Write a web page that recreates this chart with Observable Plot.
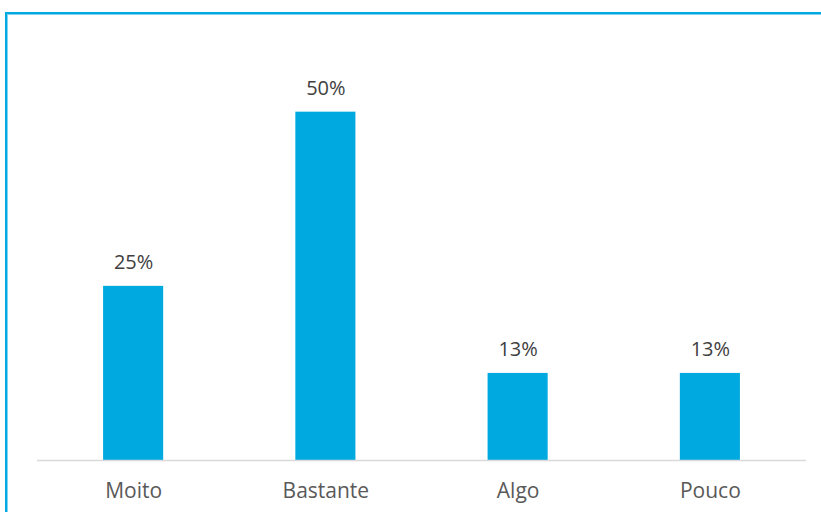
<!DOCTYPE html>
<html>
<head>
<meta charset="utf-8">
<script src="https://cdn.jsdelivr.net/npm/d3@7"></script>
<script src="https://cdn.jsdelivr.net/npm/@observablehq/plot@0.6"></script>
<style>
  html, body { margin: 0; padding: 0; background: #fff; overflow: hidden; }
  #wrap { position: relative; width: 821px; height: 512px; }
  #border { position: absolute; left: 5px; top: 12px; width: 900px; height: 600px;
            border-left: 2px solid #00A9E0; border-top: 2px solid #00A9E0; box-shadow: inset 1px 1px 0 #80d4ef; pointer-events: none; }
</style>
</head>
<body>
<div id="wrap"><div id="border"></div></div>
<script>
const categories = ["Moito", "Bastante", "Algo", "Pouco"];
const values = [25, 50, 12.5, 12.5];
const labels = ["25%", "50%", "13%", "13%"];

const data = categories.map((c, i) => ({category: c, value: values[i], label: labels[i]}));

const chart = Plot.plot({
  width: 821,
  height: 512,
  marginLeft: 37,
  marginRight: 15,
  marginTop: 42,
  marginBottom: 52,
  style: { fontFamily: "'Open Sans', sans-serif", background: "transparent" },
  x: { domain: categories, paddingInner: 0.6875, paddingOuter: 0.34375, round: false, label: null },
  y: { domain: [0, 60], axis: null },
  marks: [
    Plot.barY(data, {x: "category", y: "value", fill: "#00A9E0"}),
    Plot.ruleY([0], {stroke: "#d9d9d9", strokeWidth: 1.5}),
    Plot.text(data, {x: "category", y: "value", text: "label", lineAnchor: "bottom", dy: -17, fontSize: 20, fill: "#404040"}),
    Plot.axisX({tickSize: 0, tickPadding: 23, fontSize: 21, color: "#595959", label: null})
  ]
});
chart.style.position = "absolute";
chart.style.left = "0";
chart.style.top = "0";
document.getElementById("wrap").prepend(chart);
</script>
</body>
</html>
